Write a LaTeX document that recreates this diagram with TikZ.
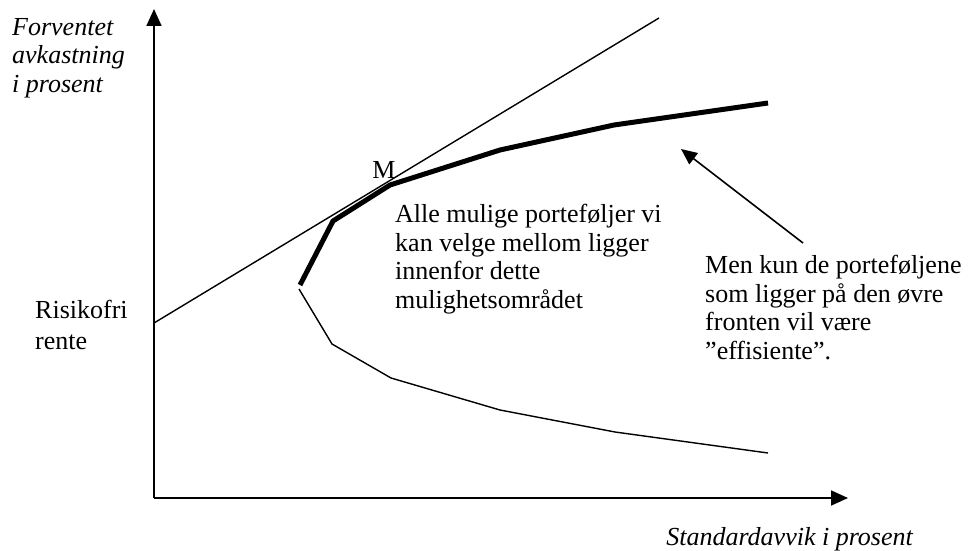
\documentclass[tikz,border=0pt]{standalone}
\usepackage{fontspec}
\setmainfont{Liberation Serif}
\usetikzlibrary{arrows.meta}
\begin{document}
\begin{tikzpicture}[x=1pt,y=-1pt,
  txt/.style={inner sep=0pt,align=left,font=\fontsize{26}{28.5}\selectfont},
  itxt/.style={txt,font=\fontsize{26}{28.5}\selectfont\itshape},
  axis/.style={line width=1.8pt,-{Triangle[length=17pt,width=15pt]}},
  thin/.style={line width=1.4pt},
  thick frontier/.style={line width=5pt,line join=round},
  pointer/.style={line width=1.6pt,-{Triangle[length=16pt,width=14pt]}}]
\useasboundingbox (0,0) rectangle (971,551);
% axes
\coordinate (O) at (154,498);
\coordinate (Ytip) at (154,9);
\coordinate (Xtip) at (848,498);
\draw[axis] (O) -- (Ytip);
\draw[axis] (O) -- (Xtip);
% capital market line
\coordinate (rf) at (154,323);
\coordinate (cml) at (659,18);
\draw[thin] (rf) -- (cml);
% efficient frontier (upper)
\coordinate (u0) at (300,285);
\coordinate (u1) at (333,221);
\coordinate (u2) at (390,185);
\coordinate (u3) at (500,150);
\coordinate (u4) at (614,125);
\coordinate (u5) at (768,103);
\draw[thick frontier] (u0) -- (u1) -- (u2) -- (u3) -- (u4) -- (u5);
% lower boundary
\coordinate (l0) at (299,289);
\coordinate (l1) at (332,344);
\coordinate (l2) at (391,378);
\coordinate (l3) at (500,410);
\coordinate (l4) at (615,432);
\coordinate (l5) at (768,453);
\draw[thin] (l0) -- (l1) -- (l2) -- (l3) -- (l4) -- (l5);
% labels
\node[itxt,anchor=north west] (ylab) at (12,18) {Forventet\\avkastning\\i prosent};
\node[txt,anchor=north west,font=\fontsize{26}{31}\selectfont] (rflab) at (35,300) {Risikofri\\rente};
\node[txt,anchor=base] (M) at (384,178) {M};
\node[txt,anchor=north west] (alle) at (395,204) {Alle mulige porteføljer vi\\kan velge mellom ligger\\innenfor dette\\mulighetsområdet};
\node[txt,anchor=north west] (men) at (705,255) {Men kun de porteføljene\\som ligger på den øvre\\fronten vil være\\”effisiente”.};
\node[itxt,anchor=base east] (xlab) at (913,545) {Standardavvik i prosent};
% pointer arrow
\coordinate (pstart) at (803,243);
\coordinate (ptip) at (681,149);
\draw[pointer] (pstart) -- (ptip);
\end{tikzpicture}
\end{document}
